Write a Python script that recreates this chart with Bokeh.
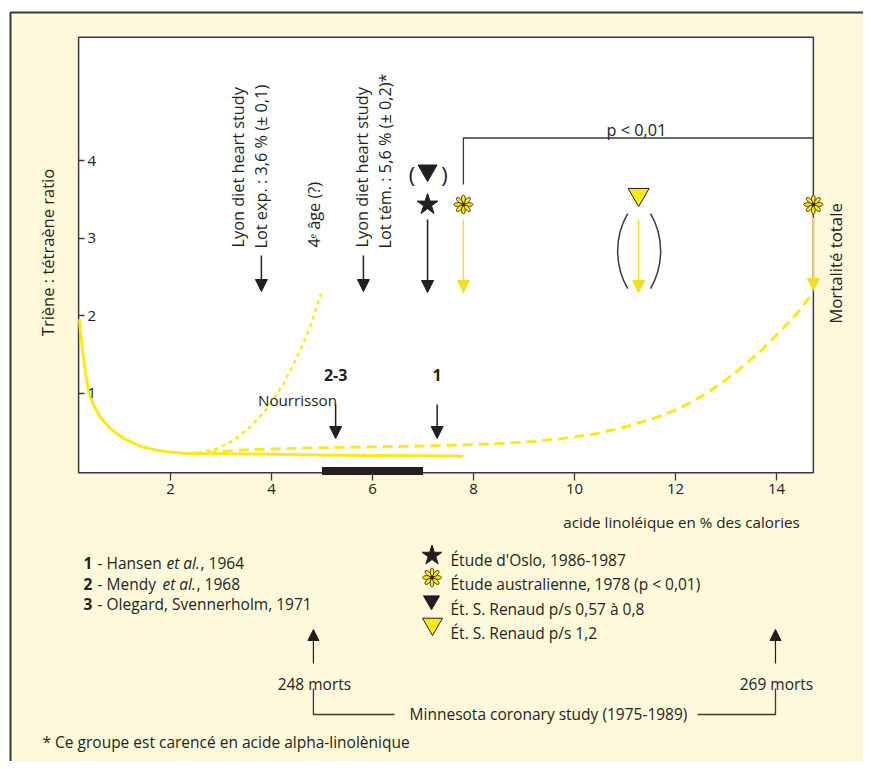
import math
from bokeh.plotting import figure
from bokeh.models import Range1d, LinearAxis, FixedTicker, Arrow, NormalHead, Label
from bokeh.embed import file_html
from bokeh.resources import INLINE

# ---------------- data ----------------
x_ticks = [2, 4, 6, 8, 10, 12, 14]
y_ticks = [1, 2, 3, 4]
x_lim = [0.18, 14.73]
y_lim = [-0.03, 5.59]

# solid curve (adult)
adult_x = [0.20, 0.21, 0.23, 0.25, 0.32, 0.38, 0.48, 0.61, 0.81, 1.08, 1.41, 1.74, 2.00, 2.33, 3.0, 4.0, 5.0, 6.0, 7.0, 7.8]
adult_y = [1.95, 1.85, 1.72, 1.59, 1.25, 1.01, 0.84, 0.69, 0.54, 0.41, 0.31, 0.26, 0.236, 0.22, 0.215, 0.21, 0.20, 0.195, 0.19, 0.185]

# dotted curve (4e age)
elderly_x = [2.4, 2.6, 2.92, 3.25, 3.58, 3.91, 4.24, 4.44, 4.62, 4.80, 4.98]
elderly_y = [0.22, 0.23, 0.28, 0.39, 0.56, 0.80, 1.12, 1.38, 1.62, 1.92, 2.28]

# dashed curve (nourrisson)
infant_x = [2.4, 3.0, 3.58, 4.57, 5.5, 6.5, 7.28, 8.0, 8.53, 9.2, 9.72, 10.4, 11.05, 11.6, 12.04, 12.4,
            12.69, 13.0, 13.35, 13.7, 14.02, 14.4, 14.73]
infant_y = [0.22, 0.245, 0.27, 0.285, 0.30, 0.31, 0.32, 0.335, 0.35, 0.375, 0.41, 0.47, 0.57, 0.68, 0.79, 0.91,
            1.03, 1.17, 1.35, 1.55, 1.76, 2.02, 2.30]

bar_x = [5.0, 7.0]            # deficiency zone on the axis
lyon_x = [3.8, 5.82]          # Lyon exp. / Lyon tém.
oslo_x = 7.09
austr_x = [7.8, 14.73]
renaud_x = 11.27
refs_x = [5.27, 7.28]         # "2-3", "1"
refs_lab = ["2-3", "1"]
minnesota_x = [4.83, 13.98]
minnesota_lab = ["248 morts", "269 morts"]

# ---------------- style / layout ----------------
FONT = "Open Sans"
FS = 15.5      # legend / notes
FSV = 16.3     # texts in the plot
YEL = "#FFE81A"
YEL_ARROW = "#F2DE22"
BG = "#FEF9DB"
INK = "#231F20"
GREY = "#3A3A3A"

W, H = 863, 761
PX0, PXU = 69.0, 50.5
PY0, PYU = 470.0, 77.5
def X(px): return (px - PX0) / PXU
def Y(py): return (PY0 - py) / PYU

p = figure(width=W, height=H, x_range=Range1d(X(0), X(W)), y_range=Range1d(Y(H), Y(0)),
           x_axis_type=None, y_axis_type=None, toolbar_location=None, output_backend="svg",
           min_border=0)
p.outline_line_color = None
p.background_fill_color = "white"
p.border_fill_color = "white"

# outer yellow panel
p.quad(left=[X(10)], right=[X(900)], top=[Y(12)], bottom=[Y(800)], fill_color=BG, line_color=GREY, line_width=2)
# plot box
p.quad(left=[x_lim[0]], right=[x_lim[1]], bottom=[y_lim[0]], top=[y_lim[1]], fill_color="white",
       line_color=GREY, line_width=1.5)

# curves
p.line(adult_x, adult_y, line_color=YEL, line_width=3)
p.line(elderly_x, elderly_y, line_color=YEL, line_width=2.5, line_dash="4 4")
p.line(infant_x, infant_y, line_color=YEL, line_width=3, line_dash="10 6")

# black bar
p.quad(left=[bar_x[0]], right=[bar_x[1]], top=[Y(466.5)], bottom=[Y(474.5)], fill_color=INK, line_color=None)

# axes
xa = LinearAxis(fixed_location=y_lim[0], ticker=FixedTicker(ticks=x_ticks))
ya = LinearAxis(fixed_location=x_lim[0], ticker=FixedTicker(ticks=y_ticks))
for a, tout in ((xa, 8), (ya, 6)):
    a.axis_line_color = None
    a.major_tick_in = 0
    a.major_tick_out = tout
    a.minor_tick_line_color = None
    a.major_tick_line_color = GREY
    a.major_tick_line_width = 1.3
    a.major_label_text_font = FONT
    a.major_label_text_font_size = "15px"
    a.major_label_text_color = INK
    a.major_label_standoff = 3
p.add_layout(xa, "below")
p.add_layout(ya, "right")


def lab(s, px, py, size=FS, align="left", base="alphabetic", angle=0.0, style="normal", color=INK):
    p.add_layout(Label(x=X(px), y=Y(py), text=s, text_font=FONT, text_font_size=f"{size}px",
                       text_align=align, text_baseline=base, angle=angle, text_font_style=style,
                       text_color=color))


def arrow(x, y0, y1, color, head=12, lw=1.5):
    p.add_layout(Arrow(x_start=x, y_start=y0, x_end=x, y_end=y1, line_color=color, line_width=lw,
                       end=NormalHead(size=head, fill_color=color, line_color=color, line_width=1)))


def flower(x, y, s=19):
    r = s * 0.29
    xs, ys, angs = [], [], []
    for k in range(8):
        a = k * math.pi / 4
        xs.append(x + r * math.cos(a) / PXU)
        ys.append(y + r * math.sin(a) / PYU)
        angs.append(a)
    p.ellipse(x=xs, y=ys, width=s * 0.42, height=s * 0.2, angle=angs, width_units="screen",
              height_units="screen", fill_color=YEL, line_color=INK, line_width=0.8)
    p.scatter(x=[x], y=[y], size=2.5, color=INK)


# ---- arrows in plot ----
for lx in lyon_x:
    arrow(lx, Y(255), Y(291), INK)
arrow(oslo_x, Y(219), Y(292), INK)
arrow(austr_x[0], Y(219), Y(292), YEL_ARROW)
arrow(renaud_x, Y(219), Y(292), YEL_ARROW)
arrow(austr_x[1], Y(217), Y(290), YEL_ARROW)
for rx in refs_x:
    arrow(rx, Y(404), Y(438), INK)

# markers
p.scatter(x=[oslo_x], y=[Y(204)], marker="star", size=22, color=INK)
p.scatter(x=[oslo_x], y=[Y(170)], marker="inverted_triangle", size=19, color=INK)
lab("(", 411.5, 173, size=22, align="center", base="middle")
lab(")", 444, 173, size=22, align="center", base="middle")
for ax in austr_x:
    flower(ax, Y(204))
p.scatter(x=[renaud_x], y=[Y(194)], marker="inverted_triangle", size=21, fill_color=YEL,
          line_color=INK, line_width=1)
# large parentheses around renaud arrow
p.arc(x=[renaud_x + 54 / PXU], y=[Y(250.5)], radius=75, radius_units="screen",
      start_angle=math.radians(150), end_angle=math.radians(210), line_color=GREY, line_width=1.5)
p.arc(x=[renaud_x - 53 / PXU], y=[Y(250.5)], radius=75, radius_units="screen",
      start_angle=math.radians(-30), end_angle=math.radians(30), line_color=GREY, line_width=1.5)

# p < 0.01 bracket
p.line([austr_x[0], austr_x[0], austr_x[1]], [Y(184), Y(137.5), Y(137.5)], line_color=GREY, line_width=1.3)
lab("p < 0,01", 636, 129, size=FSV, align="center")

# vertical texts
V = math.pi / 2
lab("Lyon diet heart study", 237, 247, size=FSV, angle=V, base="middle")
lab("Lot exp. : 3,6 % (± 0,1)", 260, 248, size=FSV, angle=V, base="middle")
lab("4ᵉ âge (?)", 313, 247, size=FSV, angle=V, base="middle")
lab("Lyon diet heart study", 361, 247, size=FSV, angle=V, base="middle")
lab("Lot tém. : 5,6 % (± 0,2)*", 384, 248, size=FSV, angle=V, base="middle")
lab("Mortalité totale", 835, 263, size=16.8, angle=V, align="center", base="middle")
lab("Triène : tétraène ratio", 47, 252, size=16.5, angle=V, align="center", base="middle")

for rx, t in zip(refs_x, refs_lab):
    lab(t, PX0 + rx * PXU, 374, size=16, align="center", style="bold")
lab("Nourrisson", 297, 399, size=15.2, align="center")

lab("acide linoléique en % des calories", 681, 521, size=15.2, align="center")

# left legend
lab("1", 83, 562, style="bold"); lab("- Hansen", 97, 562); lab("et al.", 166, 562, style="italic"); lab(", 1964", 200, 562)
lab("2", 83, 583, style="bold"); lab("- Mendy", 97, 583); lab("et al.", 162, 583, style="italic"); lab(", 1968", 196, 583)
lab("3", 83, 603, style="bold"); lab("- Olegard, Svennerholm, 1971", 97, 603)

# right legend
p.scatter(x=[X(431.5)], y=[Y(555)], marker="star", size=21, color=INK)
flower(X(431.5), Y(577))
p.scatter(x=[X(431)], y=[Y(600)], marker="inverted_triangle", size=16, color=INK)
p.scatter(x=[X(432)], y=[Y(623.5)], marker="inverted_triangle", size=20, fill_color=YEL, line_color=INK, line_width=1)
lab("Étude d'Oslo, 1986-1987", 450, 559)
lab("Étude australienne, 1978 (p < 0,01)", 450, 583)
lab("Ét. S. Renaud p/s 0,57 à 0,8", 450, 608)
lab("Ét. S. Renaud p/s 1,2", 450, 632)

# Minnesota
for mx, t in zip(minnesota_x, minnesota_lab):
    arrow(mx, Y(663), Y(629), INK, head=11, lw=1.2)
    lab(t, PX0 + mx * PXU + 1, 683, align="center")
p.line([minnesota_x[0], minnesota_x[0], X(394)], [Y(688), Y(714), Y(714)], line_color=GREY, line_width=1.3)
p.line([X(697), minnesota_x[1], minnesota_x[1]], [Y(714), Y(714), Y(688)], line_color=GREY, line_width=1.3)
lab("Minnesota coronary study (1975-1989)", 548, 713, align="center", base="middle")
lab("* Ce groupe est carencé en acide alpha-linolènique", 42, 741, base="middle")

open("out.html", "w").write(file_html(p, INLINE))
